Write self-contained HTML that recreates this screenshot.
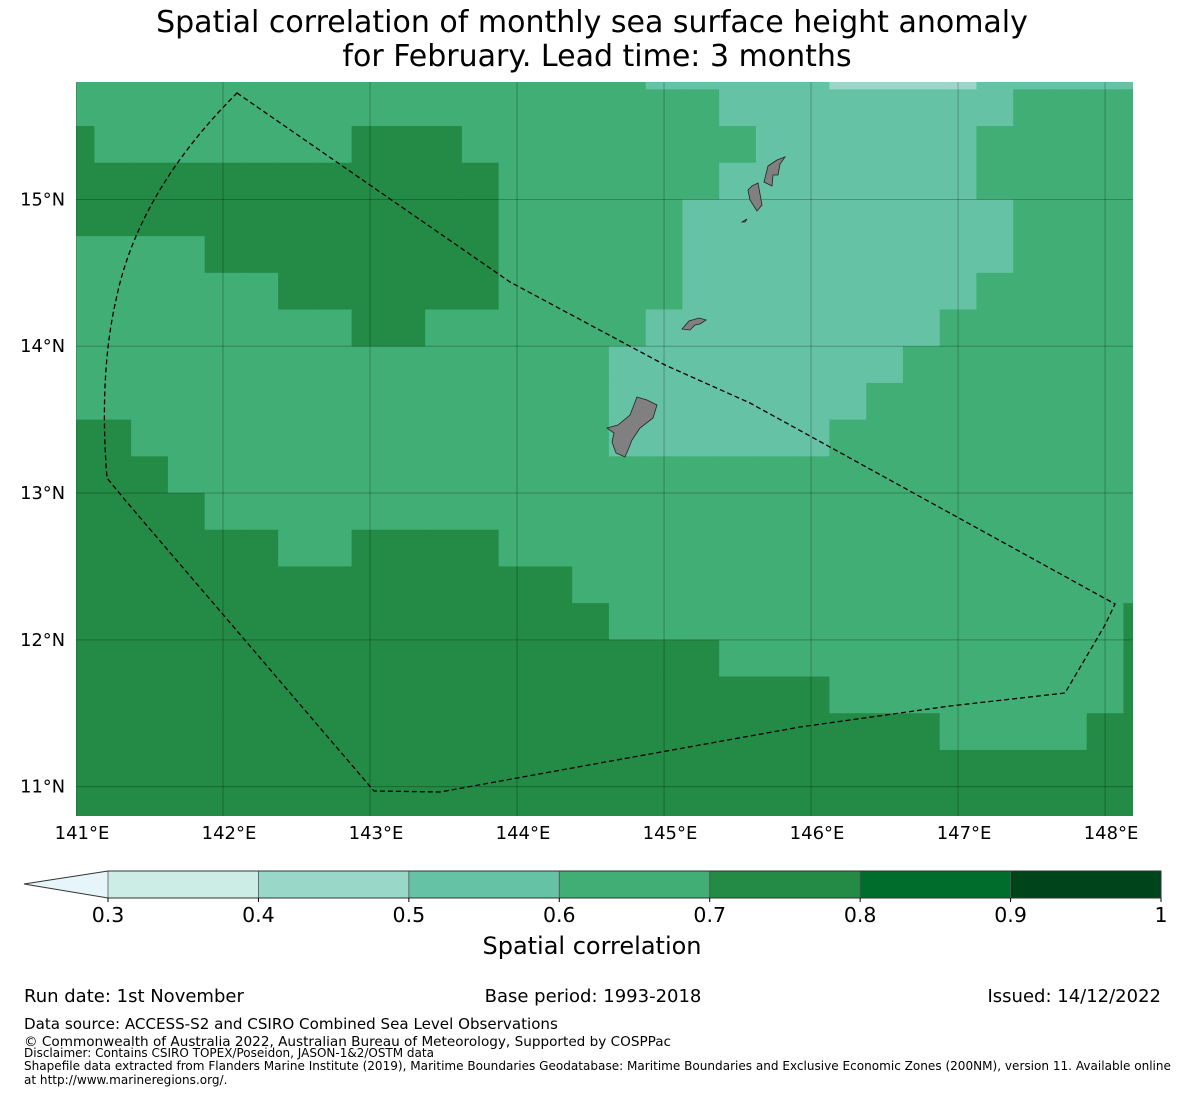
<!DOCTYPE html>
<html><head><meta charset="utf-8">
<style>
html,body{margin:0;padding:0;background:#fff;}
body{width:1185px;height:1095px;overflow:hidden;font-family:"DejaVu Sans","Liberation Sans",sans-serif;}
svg text{font-family:"DejaVu Sans","Liberation Sans",sans-serif;fill:#000;}
</style></head>
<body>
<svg id="fig" width="1185" height="1095" viewBox="0 0 1185 1095" xmlns="http://www.w3.org/2000/svg">
  <text x="592" y="32" font-size="30" text-anchor="middle">Spatial correlation of monthly sea surface height anomaly</text>
  <text x="597" y="66" font-size="30" text-anchor="middle">for February. Lead time: 3 months</text>
  <defs><clipPath id="mapclip"><rect x="76" y="82" width="1057" height="734"/></clipPath></defs>
  <g id="map" clip-path="url(#mapclip)"></g>
  <g id="axes"></g>
  <g id="cbar"></g>
  <text x="592" y="954" font-size="24" text-anchor="middle">Spatial correlation</text>
  <text x="24" y="1002" font-size="18">Run date: 1st November</text>
  <text x="593" y="1002" font-size="18" text-anchor="middle">Base period: 1993-2018</text>
  <text x="1161" y="1002" font-size="18" text-anchor="end">Issued: 14/12/2022</text>
  <text x="24" y="1029" font-size="15.1">Data source: ACCESS-S2 and CSIRO Combined Sea Level Observations</text>
  <text x="24" y="1046" font-size="13.6">© Commonwealth of Australia 2022, Australian Bureau of Meteorology, Supported by COSPPac</text>
  <text x="24" y="1057" font-size="12">Disclaimer: Contains CSIRO TOPEX/Poseidon, JASON-1&amp;2/OSTM data</text>
  <text x="24" y="1070" font-size="12.05">Shapefile data extracted from Flanders Marine Institute (2019), Maritime Boundaries Geodatabase: Maritime Boundaries and Exclusive Economic Zones (200NM), version 11. Available online</text>
  <text x="24" y="1084" font-size="12.05">at http://www.marineregions.org/.</text>
</svg>
<script>
const lonCenters=[141,141.25,141.5,141.75,142,142.25,142.5,142.75,143,143.25,143.5,143.75,144,144.25,144.5,144.75,145,145.25,145.5,145.75,146,146.25,146.5,146.75,147,147.25,147.5,147.75,148,148.25];
const latCenters=[15.875,15.625,15.375,15.125,14.875,14.625,14.375,14.125,13.875,13.625,13.375,13.125,12.875,12.625,12.375,12.125,11.875,11.625,11.375,11.125,10.875];
const corr=[
[.65,.65,.65,.65,.65,.65,.65,.65,.65,.65,.65,.65,.65,.65,.65,.65,.55,.55,.55,.55,.55,.45,.45,.45,.45,.55,.55,.55,.55,.55],
[.65,.65,.65,.65,.65,.65,.65,.65,.65,.65,.65,.65,.65,.65,.65,.65,.65,.65,.55,.55,.55,.55,.55,.55,.55,.55,.65,.65,.65,.65],
[.75,.65,.65,.65,.65,.65,.65,.65,.75,.75,.75,.65,.65,.65,.65,.65,.65,.65,.65,.55,.55,.55,.55,.55,.55,.65,.65,.65,.65,.65],
[.75,.75,.75,.75,.75,.75,.75,.75,.75,.75,.75,.75,.65,.65,.65,.65,.65,.65,.55,.55,.55,.55,.55,.55,.55,.65,.65,.65,.65,.65],
[.75,.75,.75,.75,.75,.75,.75,.75,.75,.75,.75,.75,.65,.65,.65,.65,.65,.55,.55,.55,.55,.55,.55,.55,.55,.55,.65,.65,.65,.65],
[.65,.65,.65,.65,.75,.75,.75,.75,.75,.75,.75,.75,.65,.65,.65,.65,.65,.55,.55,.55,.55,.55,.55,.55,.55,.55,.65,.65,.65,.65],
[.65,.65,.65,.65,.65,.65,.75,.75,.75,.75,.75,.75,.65,.65,.65,.65,.65,.55,.55,.55,.55,.55,.55,.55,.55,.65,.65,.65,.65,.65],
[.65,.65,.65,.65,.65,.65,.65,.65,.75,.75,.65,.65,.65,.65,.65,.65,.55,.55,.55,.55,.55,.55,.55,.55,.65,.65,.65,.65,.65,.65],
[.65,.65,.65,.65,.65,.65,.65,.65,.65,.65,.65,.65,.65,.65,.65,.55,.55,.55,.55,.55,.55,.55,.55,.65,.65,.65,.65,.65,.65,.65],
[.65,.65,.65,.65,.65,.65,.65,.65,.65,.65,.65,.65,.65,.65,.65,.55,.55,.55,.55,.55,.55,.55,.65,.65,.65,.65,.65,.65,.65,.65],
[.75,.75,.65,.65,.65,.65,.65,.65,.65,.65,.65,.65,.65,.65,.65,.55,.55,.55,.55,.55,.55,.65,.65,.65,.65,.65,.65,.65,.65,.65],
[.75,.75,.75,.65,.65,.65,.65,.65,.65,.65,.65,.65,.65,.65,.65,.65,.65,.65,.65,.65,.65,.65,.65,.65,.65,.65,.65,.65,.65,.65],
[.75,.75,.75,.75,.65,.65,.65,.65,.65,.65,.65,.65,.65,.65,.65,.65,.65,.65,.65,.65,.65,.65,.65,.65,.65,.65,.65,.65,.65,.65],
[.75,.75,.75,.75,.75,.75,.65,.65,.75,.75,.75,.75,.65,.65,.65,.65,.65,.65,.65,.65,.65,.65,.65,.65,.65,.65,.65,.65,.65,.65],
[.75,.75,.75,.75,.75,.75,.75,.75,.75,.75,.75,.75,.75,.75,.65,.65,.65,.65,.65,.65,.65,.65,.65,.65,.65,.65,.65,.65,.65,.65],
[.75,.75,.75,.75,.75,.75,.75,.75,.75,.75,.75,.75,.75,.75,.75,.65,.65,.65,.65,.65,.65,.65,.65,.65,.65,.65,.65,.65,.65,.75],
[.75,.75,.75,.75,.75,.75,.75,.75,.75,.75,.75,.75,.75,.75,.75,.75,.75,.75,.65,.65,.65,.65,.65,.65,.65,.65,.65,.65,.65,.75],
[.75,.75,.75,.75,.75,.75,.75,.75,.75,.75,.75,.75,.75,.75,.75,.75,.75,.75,.75,.75,.75,.65,.65,.65,.65,.65,.65,.65,.65,.75],
[.75,.75,.75,.75,.75,.75,.75,.75,.75,.75,.75,.75,.75,.75,.75,.75,.75,.75,.75,.75,.75,.75,.75,.75,.65,.65,.65,.65,.75,.75],
[.75,.75,.75,.75,.75,.75,.75,.75,.75,.75,.75,.75,.75,.75,.75,.75,.75,.75,.75,.75,.75,.75,.75,.75,.75,.75,.75,.75,.75,.75],
[.75,.75,.75,.75,.75,.75,.75,.75,.75,.75,.75,.75,.75,.75,.75,.75,.75,.75,.75,.75,.75,.75,.75,.75,.75,.75,.75,.75,.75,.75]
];
const lonTicks=[141,142,143,144,145,146,147,148];
const lonTickLabels=["141°E","142°E","143°E","144°E","145°E","146°E","147°E","148°E"];
const latTicks=[15,14,13,12,11];
const latTickLabels=["15°N","14°N","13°N","12°N","11°N"];
const cbBounds=[0.3,0.4,0.5,0.6,0.7,0.8,0.9,1];
const cbColors=["#ccece6","#99d8c9","#66c2a4","#41ae76","#238b45","#006d2c","#00441b"];
const cbTickLabels=["0.3","0.4","0.5","0.6","0.7","0.8","0.9","1"];

const NS="http://www.w3.org/2000/svg";
const X0=76,X1=1133,Y0=82,Y1=816;
const LON0=141,LON1=148.19,LAT0=10.8,LAT1=15.8;
function xScale(lon){return X0+(lon-LON0)/(LON1-LON0)*(X1-X0);}
function yScale(lat){return Y1-(lat-LAT0)/(LAT1-LAT0)*(Y1-Y0);}
function cbX(v){return 108+(v-0.3)/(1-0.3)*(1161-108);}
function colorFor(v){
  if(v<cbBounds[0])return "#e5f5f9";
  for(let i=0;i<cbColors.length;i++){if(v<cbBounds[i+1])return cbColors[i];}
  return cbColors[cbColors.length-1];
}
function mk(tag,attrs,parent){const e=document.createElementNS(NS,tag);for(const k in attrs)e.setAttribute(k,attrs[k]);parent.appendChild(e);return e;}

const map=document.getElementById('map');
const dLon=0.25,dLat=0.25;
for(let r=0;r<latCenters.length;r++){
  for(let c=0;c<lonCenters.length;c++){
    const xa=xScale(lonCenters[c]-dLon/2),xb=xScale(lonCenters[c]+dLon/2);
    const ya=yScale(latCenters[r]+dLat/2),yb=yScale(latCenters[r]-dLat/2);
    const el=mk('rect',{x:xa.toFixed(2),y:ya.toFixed(2),width:(xb-xa+0.6).toFixed(2),height:(yb-ya+0.6).toFixed(2),fill:colorFor(corr[r][c])},map);
    
    
  }
}
lonTicks.forEach(l=>{
  const el=mk('line',{x1:xScale(l),x2:xScale(l),y1:Y0,y2:Y1,stroke:'#000','stroke-opacity':0.25,'stroke-width':1},map);
  
  
});
latTicks.forEach(l=>{
  const el=mk('line',{x1:X0,x2:X1,y1:yScale(l),y2:yScale(l),stroke:'#000','stroke-opacity':0.25,'stroke-width':1},map);
  
  
});
const islands=[
 ["guam-island","637,397 647,400 657,405 653,418 640,428 632,440 628,450 625,457 616,453 612,442 614,433 607,428 618,425 630,415"],
 ["rota-island","682,329 689,321 699,318 706,320 700,324 695,325 690,330"],
 ["tinian-island","752,186 758,183 760,194 762,205 757,211 750,200 748,190"],
 ["saipan-island","768,166 777,160 785,157 780,164 778,175 773,175 772,186 764,182"],
 ["aguijan-island","742,222 747,219 745,222"]
];
islands.forEach(d=>{
  const el=mk('polygon',{points:d[1],fill:'#808080',stroke:'#222','stroke-width':0.8},map);
  
  
});
const eez=mk('path',{d:"M237,93 L510,282 L665,365 L750,403 L1115,604 L1105,625 L1065,693 L950,706 L800,727 L600,763 L440,792 L374,791 L125,500 L107,478 C103,430 102,360 116,300 C130,230 170,160 237,93 Z",fill:'none',stroke:'#000','stroke-width':1.3,'stroke-dasharray':'5,3'},map);



const axes=document.getElementById('axes');
lonTicks.forEach((l,i)=>{
  const t=mk('text',{x:xScale(l)+6,y:839,'font-size':18,'text-anchor':'middle'},axes);
  t.textContent=lonTickLabels[i];
  
  
});
latTicks.forEach((l,i)=>{
  const t=mk('text',{x:65,y:yScale(l)+6,'font-size':17.8,'text-anchor':'end'},axes);
  t.textContent=latTickLabels[i];
  
  
});

const cb=document.getElementById('cbar');
const tri=mk('polygon',{points:"24,884 108,871 108,898",fill:'#e5f5f9',stroke:'none'},cb);


for(let i=0;i<cbColors.length;i++){
  const xa=cbX(cbBounds[i]),xb=cbX(cbBounds[i+1]);
  const el=mk('rect',{x:xa,y:871,width:xb-xa,height:27,fill:cbColors[i],stroke:'#555','stroke-width':0.8},cb);
  
  
}
const outline=mk('polygon',{points:"24,884 108,871 1161,871 1161,898 108,898",fill:'none',stroke:'#333','stroke-width':1},cb);


cbBounds.forEach((b,i)=>{
  const tk=mk('line',{x1:cbX(b),x2:cbX(b),y1:898,y2:902,stroke:'#000','stroke-width':1},cb);
  
  
  const t=mk('text',{x:cbX(b),y:922,'font-size':20.5,'text-anchor':'middle'},cb);
  t.textContent=cbTickLabels[i];
  
  
});
</script>
</body></html>
